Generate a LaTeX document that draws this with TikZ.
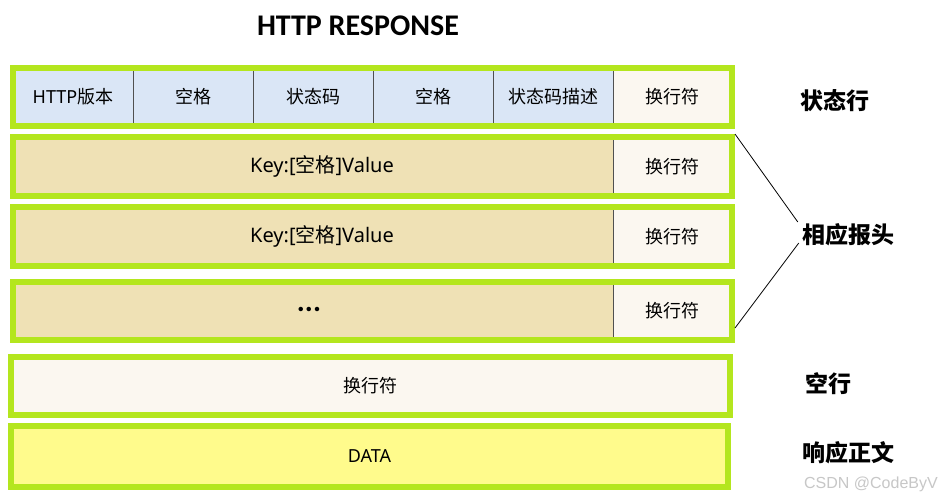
\documentclass[tikz,border=0pt]{standalone}
\usepackage{fontspec}
\setmainfont{Carlito}
\newfontfamily\cjk{Noto Sans CJK SC}
\newfontfamily\wm{Liberation Sans}
\newfontfamily\lat{Noto Sans}
\definecolor{lime}{HTML}{B4E61E}
\definecolor{blue1}{HTML}{DAE6F6}
\definecolor{tan1}{HTML}{EFE1B5}
\definecolor{cream}{HTML}{FBF7F0}
\definecolor{yel}{HTML}{FFFB8C}
\definecolor{sep}{HTML}{505050}
\tikzset{
  cell/.style={inner sep=0pt, outer sep=0pt, draw=none, font=\cjk\fontsize{18}{21}\selectfont, text=black},
  keytext/.style={font=\cjk\fontsize{20}{23}\selectfont},
  frame/.style={draw=lime, line width=6pt, inner sep=0pt, fill=none},
  sepline/.style={draw=sep, line width=0.8pt},
  side/.style={font=\cjk\bfseries\fontsize{23}{26}\selectfont, inner sep=0pt},
  conn/.style={draw=black, line width=0.8pt}
}
\begin{document}
\begin{tikzpicture}[x=1pt,y=-1pt]
\useasboundingbox (0,0) rectangle (940,500);
\fill[white] (0,0) rectangle (940,500);
% title
\node[font=\bfseries\fontsize{30}{34}\selectfont, inner sep=0pt] (title) at (358,26) {HTTP RESPONSE};
% row 1
\node[cell, fill=blue1, minimum width=120, minimum height=58] (c11) at (73,97) {{\lat HTTP}版本};
\node[cell, fill=blue1, minimum width=120, minimum height=58] (c12) at (193,97) {空格};
\node[cell, fill=blue1, minimum width=120, minimum height=58] (c13) at (313,97) {状态码};
\node[cell, fill=blue1, minimum width=120, minimum height=58] (c14) at (433,97) {空格};
\node[cell, fill=blue1, minimum width=120, minimum height=58] (c15) at (553,97) {状态码描述};
\node[cell, fill=cream, minimum width=119, minimum height=58] (c16) at (672.5,97) {换行符};
\foreach \c in {c11,c12,c13,c14,c15}{\draw[sepline] (\c.north east) -- (\c.south east);}
\node[frame, minimum width=719, minimum height=58] (r1) at (372.5,97) {};
% row 2
\node[cell, keytext, fill=tan1, minimum width=600, minimum height=59] (c21) at (313,166.5) {\kern18pt{\lat Key:[}空格{\lat ]Value}};
\node[cell, fill=cream, minimum width=119, minimum height=59] (c22) at (672.5,166.5) {换行符};
\draw[sepline] (c21.north east) -- (c21.south east);
\node[frame, minimum width=719, minimum height=59] (r2) at (372.5,166.5) {};
% row 3
\node[cell, keytext, fill=tan1, minimum width=600, minimum height=59] (c31) at (313,236.5) {\kern18pt{\lat Key:[}空格{\lat ]Value}};
\node[cell, fill=cream, minimum width=119, minimum height=59] (c32) at (672.5,236.5) {换行符};
\draw[sepline] (c31.north east) -- (c31.south east);
\node[frame, minimum width=719, minimum height=59] (r3) at (372.5,236.5) {};
% row 4
\node[cell, fill=tan1, minimum width=600, minimum height=58, font=\bfseries\fontsize{30}{32}\selectfont] (c41) at (313,311) {\kern-8pt\raisebox{4pt}{...}};
\node[cell, fill=cream, minimum width=119, minimum height=58] (c42) at (672.5,311) {换行符};
\draw[sepline] (c41.north east) -- (c41.south east);
\node[frame, minimum width=719, minimum height=58] (r4) at (372.5,311) {};
% row 5
\node[cell, fill=cream, minimum width=719, minimum height=58] (c51) at (370.5,386) {换行符};
\node[frame, minimum width=719, minimum height=58] (r5) at (370.5,386) {};
% row 6
\node[cell, fill=yel, minimum width=717, minimum height=61, font=\lat\fontsize{18}{21}\selectfont] (c61) at (369.5,456.5) {DATA};
\node[frame, minimum width=717, minimum height=61] (r6) at (369.5,456.5) {};
% side labels
\node[side] (l1) at (835,101) {状态行};
\node[side] (l2) at (848,235) {相应报头};
\node[side] (l3) at (828,384) {空行};
\node[side] (l4) at (848,453) {响应正文};
% connectors
\draw[conn] (r2.north east) -- ([shift={(-4,-13)}]l2.west);
\draw[conn] ([yshift=15pt]r4.south east) -- ([shift={(-3,8)}]l2.west);
% watermark
\node[font=\wm\fontsize{16}{18}\selectfont, text=black!22, anchor=east, inner sep=0pt] (wm) at (938,484) {CSDN @CodeByV};
\end{tikzpicture}
\end{document}
